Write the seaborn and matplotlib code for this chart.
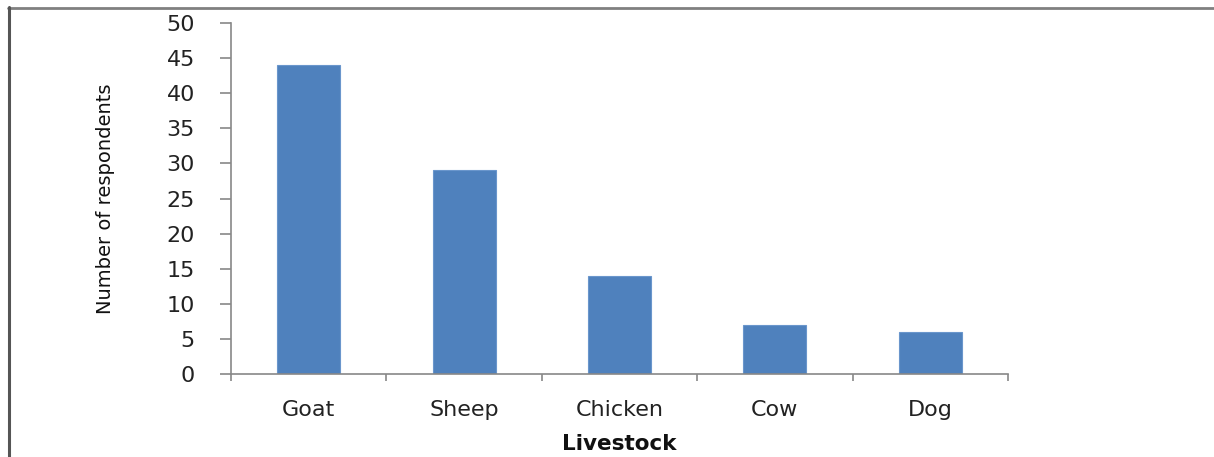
import matplotlib
matplotlib.use("Agg")
import matplotlib.pyplot as plt
from matplotlib.lines import Line2D
from matplotlib.ticker import FixedLocator
import seaborn as sns
import pandas as pd

categories = ["Goat", "Sheep", "Chicken", "Cow", "Dog"]
respondents = [44, 29, 14, 7, 6]
y_ticks = [0, 5, 10, 15, 20, 25, 30, 35, 40, 45, 50]

sns.set_style("white")
plt.rcParams['font.family'] = ['DejaVu Sans']

df = pd.DataFrame({"Livestock": categories, "Number of respondents": respondents})

fig = plt.figure(figsize=(12.14, 4.57), dpi=100)
ax = fig.add_axes([0.1903, 0.1816, 0.640, 0.768])

sns.barplot(data=df, x="Livestock", y="Number of respondents", color="#4F81BD",
            saturation=1, width=0.405, edgecolor="#6A96CC", linewidth=0.8, ax=ax)

ax.set_xlim(-0.5, len(categories) - 0.5)
ax.set_ylim(0, 50)
ax.set_yticks(y_ticks)

for s in ["top", "right"]:
    ax.spines[s].set_visible(False)
for s in ["left", "bottom"]:
    ax.spines[s].set_color("#888888")
    ax.spines[s].set_linewidth(1.2)

ax.xaxis.set_minor_locator(FixedLocator([i - 0.5 for i in range(len(categories) + 1)]))
ax.tick_params(axis="x", which="both", bottom=True)
ax.tick_params(axis="y", which="both", left=True)
ax.tick_params(axis="x", which="major", length=0, pad=19, labelsize=16, labelcolor="#222222")
ax.tick_params(axis="x", which="minor", length=5, width=1.2, color="#888888", direction="out")
ax.tick_params(axis="y", which="major", length=8, width=1.2, color="#888888", direction="out",
               pad=18, labelsize=16, labelcolor="#222222")

ax.set_xlabel("Livestock", fontsize=15.5, fontweight="bold", color="#111111", labelpad=10)
ax.set_ylabel("Number of respondents", fontsize=14, color="#111111",
              fontweight="medium", va="center")
ax.yaxis.set_label_coords(-0.162, 0.5)

# outer frame lines (top and left)
fig.add_artist(Line2D([8 / 1214, 1.0], [1 - 7.5 / 457, 1 - 7.5 / 457], transform=fig.transFigure,
                      color="#808080", linewidth=2))
fig.add_artist(Line2D([9 / 1214, 9 / 1214], [0, 1 - 7 / 457], transform=fig.transFigure,
                      color="#555555", linewidth=2.2))

fig.savefig("out.png", dpi=100)
